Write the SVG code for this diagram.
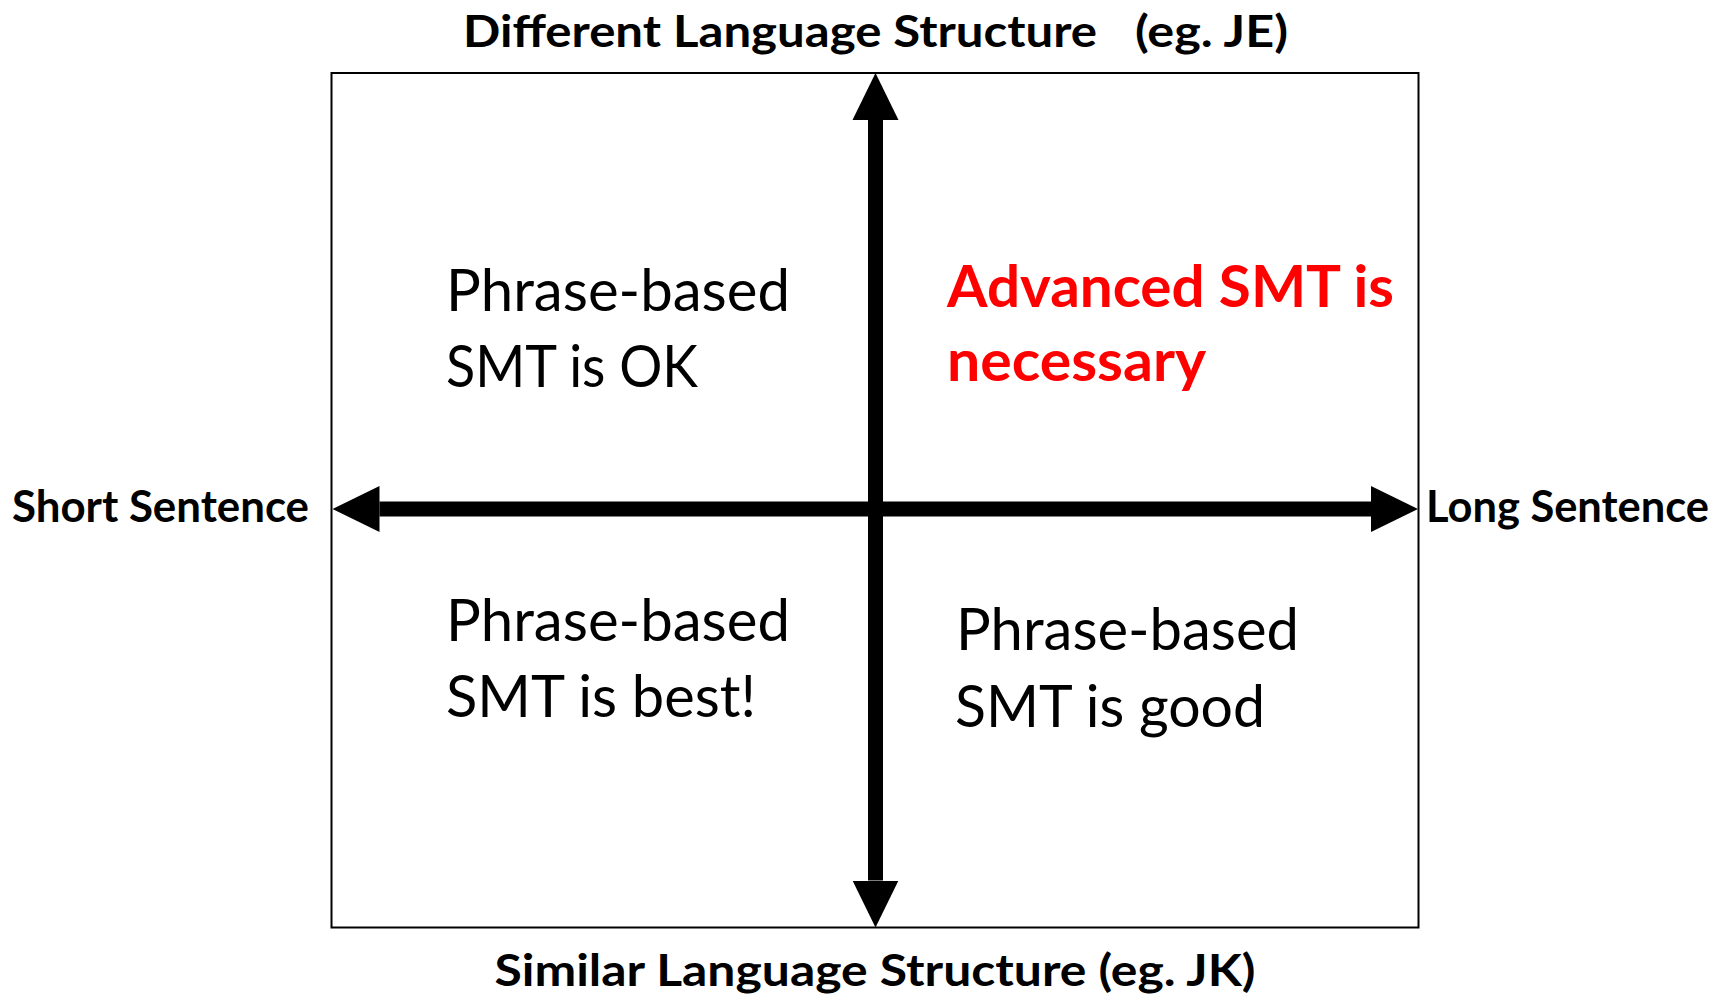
<svg xmlns="http://www.w3.org/2000/svg" width="1715" height="995" viewBox="0 0 1715 995">
<style>
.lbl{font-family:Lato,"Liberation Sans",sans-serif;font-weight:bold;font-size:44px;fill:#000}
.q{font-family:Lato,"Liberation Sans",sans-serif;font-size:58px;fill:#000}
.qr{font-family:Lato,"Liberation Sans",sans-serif;font-weight:bold;font-size:58px;fill:#FF0000}
.axis{stroke:#000;stroke-width:15;fill:none}
</style>
<defs>
<marker id="ah" markerUnits="userSpaceOnUse" markerWidth="48" markerHeight="48" viewBox="0 -24 48 48" refX="0" refY="0" orient="auto-start-reverse">
<path d="M0,-23 L47,0 L0,23 Z" fill="#000"/>
</marker>
</defs>
<rect width="1715" height="995" fill="#fff"/>
<g id="frame">
<rect x="331.5" y="73" width="1087" height="854.5" fill="none" stroke="#000" stroke-width="2"/>
</g>
<g id="connectors">
<line class="axis" x1="379.5" y1="509" x2="1371" y2="509" marker-start="url(#ah)" marker-end="url(#ah)"/>
<line class="axis" x1="875.5" y1="120" x2="875.5" y2="880.5" marker-start="url(#ah)" marker-end="url(#ah)"/>
</g>
<g id="label-top">
<text class="lbl" y="47"><tspan x="463" textLength="634" lengthAdjust="spacingAndGlyphs">Different Language Structure</tspan><tspan x="1135" textLength="153" lengthAdjust="spacingAndGlyphs">(eg. JE)</tspan></text>
</g>
<g id="label-bottom">
<text class="lbl" x="494.5" y="986" textLength="761" lengthAdjust="spacingAndGlyphs">Similar Language Structure (eg. JK)</text>
</g>
<g id="label-left">
<text class="lbl" x="12" y="522" textLength="297" lengthAdjust="spacingAndGlyphs">Short Sentence</text>
</g>
<g id="label-right">
<text class="lbl" x="1426" y="522" textLength="283" lengthAdjust="spacingAndGlyphs">Long Sentence</text>
</g>
<g id="quad-top-left">
<text class="q" x="446" y="310.5" textLength="344" lengthAdjust="spacingAndGlyphs">Phrase-based</text>
<text class="q" x="446" y="387" textLength="252" lengthAdjust="spacingAndGlyphs">SMT is OK</text>
</g>
<g id="quad-top-right">
<text class="qr" x="947" y="307" textLength="447" lengthAdjust="spacingAndGlyphs">Advanced SMT is</text>
<text class="qr" x="947" y="381" textLength="259" lengthAdjust="spacingAndGlyphs">necessary</text>
</g>
<g id="quad-bottom-left">
<text class="q" x="446" y="641" textLength="344" lengthAdjust="spacingAndGlyphs">Phrase-based</text>
<text class="q" x="446" y="717" textLength="310" lengthAdjust="spacingAndGlyphs">SMT is best!</text>
</g>
<g id="quad-bottom-right">
<text class="q" x="956" y="650" textLength="343" lengthAdjust="spacingAndGlyphs">Phrase-based</text>
<text class="q" x="955" y="727" textLength="310" lengthAdjust="spacingAndGlyphs">SMT is good</text>
</g>
</svg>
